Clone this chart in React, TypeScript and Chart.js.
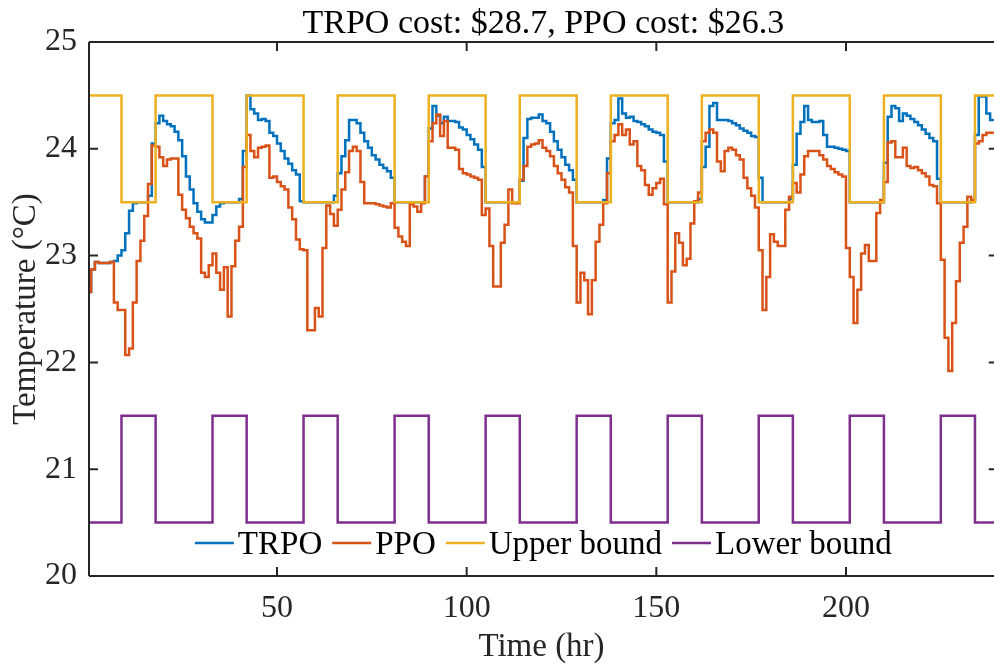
import React, { useEffect, useRef } from "react";
import { Chart, registerables } from "chart.js";

Chart.register(...registerables);

const titleText = "TRPO cost: $28.7, PPO cost: $26.3";
const xTitle = "Time (hr)";
const yTitle = "Temperature (°C)";
const seriesNames = ["TRPO", "PPO", "Upper bound", "Lower bound"];
const seriesColors = ["#0072BD", "#D95319", "#EDB120", "#7E2F8E"];

const xTicks = [50, 100, 150, 200];
const yTicks = [20, 21, 22, 23, 24, 25];

// hourly PPO temperature (hours 0..239)
const ppo = [
  22.66, 22.87, 22.94, 22.93, 22.93, 22.93, 22.94, 22.56, 22.49, 22.49, 22.07, 22.13,
  22.56, 22.95, 23.14, 23.37, 23.67, 24.03, 24.02, 23.92, 23.84, 23.9, 23.91, 23.91,
  23.57, 23.43, 23.35, 23.27, 23.21, 23.16, 22.84, 22.8, 22.91, 23.02, 22.84, 22.68,
  22.89, 22.43, 22.9, 23.14, 23.27, 23.83, 24.13, 23.98, 23.92, 24.01, 24.02, 24.03,
  23.73, 23.74, 23.69, 23.65, 23.62, 23.45, 23.34, 23.15, 23.06, 23.05, 22.3, 22.3,
  22.51, 22.43, 23.07, 23.47, 23.39, 23.28, 23.43, 23.62, 23.78, 23.98, 24.02, 23.98,
  23.69, 23.49, 23.49, 23.49, 23.48, 23.47, 23.46, 23.45, 23.49, 23.26, 23.18, 23.13,
  23.09, 23.48, 23.46, 23.41, 23.49, 23.74, 24.07, 24.24, 24.32, 24.12, 24.26, 24.01,
  24.01, 23.99, 23.81, 23.77, 23.76, 23.74, 23.73, 23.71, 23.38, 23.44, 23.09, 22.71,
  22.71, 23.12, 23.29, 23.62, 23.49, 23.49, 23.71, 23.84, 24.02, 24.04, 24.05, 24.08,
  24.01, 23.98, 23.93, 23.84, 23.77, 23.71, 23.64, 23.59, 23.09, 22.56, 22.84, 22.77,
  22.45, 22.77, 23.13, 23.29, 23.49, 23.77, 24.07, 24.13, 24.23, 24.13, 24.18, 24.04,
  24.07, 23.84, 23.8, 23.66, 23.57, 23.63, 23.68, 23.72, 23.48, 22.56, 22.85, 23.21,
  23.12, 22.91, 22.97, 23.3, 23.51, 23.59, 24.07, 24.15, 24.18, 24.15, 23.88, 23.79,
  23.98, 24.01, 23.99, 23.94, 23.9, 23.73, 23.63, 23.56, 23.45, 23.05, 22.49, 22.8,
  23.2, 23.13, 23.09, 23.09, 23.43, 23.55, 23.68, 23.59, 23.76, 23.93, 23.98, 23.98,
  23.98, 23.94, 23.9, 23.84, 23.81, 23.78, 23.76, 23.74, 23.07, 22.8, 22.37, 22.68,
  23.02, 23.1, 22.95, 22.95, 23.4, 23.52, 23.69, 24.06, 24.07, 23.92, 23.92, 24.01,
  23.84, 23.82, 23.83, 23.8, 23.77, 23.74, 23.66, 23.65, 23.49, 22.96, 22.23, 21.92,
  22.37, 22.76, 23.12, 23.27, 23.55, 23.52, 24.05, 24.07, 24.13, 24.15, 24.15, 24.15,
];

// hourly TRPO temperature (hours 0..239)
const trpo = [
  22.66, 22.87, 22.94, 22.93, 22.93, 22.93, 22.94, 22.95, 23.0, 23.05, 23.21, 23.42,
  23.49, 23.5, 23.5, 23.5, 23.56, 24.05, 24.24, 24.31, 24.26, 24.23, 24.21, 24.16,
  24.08, 23.93, 23.74, 23.62, 23.49, 23.41, 23.34, 23.31, 23.31, 23.38, 23.46, 23.49,
  23.5, 23.5, 23.5, 23.5, 23.53, 23.98, 24.5, 24.37, 24.33, 24.27, 24.28, 24.26,
  24.15, 24.12, 24.05, 23.98, 23.91, 23.86, 23.8, 23.76, 23.51, 23.5, 23.5, 23.5,
  23.5, 23.5, 23.5, 23.5, 23.5, 23.56, 23.77, 23.93, 24.08, 24.27, 24.27, 24.24,
  24.15, 24.07, 24.01, 23.94, 23.9, 23.85, 23.82, 23.79, 23.73, 23.5, 23.5, 23.5,
  23.5, 23.5, 23.5, 23.5, 23.5, 23.74, 24.19, 24.4, 24.31, 24.24, 24.3, 24.26,
  24.26, 24.25, 24.2, 24.18, 24.13, 24.09, 24.04, 23.99, 23.83, 23.5, 23.5, 23.5,
  23.5, 23.5, 23.5, 23.5, 23.5, 23.5, 23.7, 24.1, 24.28, 24.29, 24.29, 24.32,
  24.26, 24.24, 24.16, 24.07, 23.99, 23.92, 23.85, 23.8, 23.71, 23.5, 23.5, 23.5,
  23.5, 23.5, 23.5, 23.5, 23.52, 23.91, 24.24, 24.27, 24.47, 24.33, 24.29, 24.3,
  24.26, 24.25, 24.23, 24.21, 24.18, 24.16, 24.15, 24.13, 23.88, 23.5, 23.5, 23.5,
  23.5, 23.5, 23.5, 23.5, 23.5, 23.53, 23.83, 24.02, 24.4, 24.43, 24.27, 24.27,
  24.27, 24.26, 24.24, 24.22, 24.19, 24.17, 24.15, 24.12, 24.11, 23.73, 23.5, 23.5,
  23.5, 23.5, 23.5, 23.5, 23.5, 23.53, 23.85, 24.14, 24.25, 24.4, 24.27, 24.25,
  24.25, 24.26, 24.13, 24.02, 24.02, 24.01, 24.0, 23.99, 23.98, 23.5, 23.5, 23.5,
  23.5, 23.5, 23.5, 23.5, 23.5, 23.5, 23.87, 24.3, 24.4, 24.38, 24.26, 24.33,
  24.31, 24.28, 24.25, 24.22, 24.18, 24.14, 24.1, 24.07, 23.72, 23.5, 23.5, 23.5,
  23.5, 23.5, 23.5, 23.5, 23.5, 23.52, 24.13, 24.49, 24.49, 24.33, 24.27, 24.27,
];

// comfort-band schedule: change points (hours) and the value held from each
const boundTimes = [0, 9, 18, 33, 42, 57, 66, 81, 90, 105, 114, 129, 138, 153, 162, 177, 186, 201, 210, 225, 234, 240];
const upperVals = [24.5, 23.5, 24.5, 23.5, 24.5, 23.5, 24.5, 23.5, 24.5, 23.5, 24.5, 23.5, 24.5, 23.5, 24.5, 23.5, 24.5, 23.5, 24.5, 23.5, 24.5, 24.5];
const lowerVals = [20.5, 21.5, 20.5, 21.5, 20.5, 21.5, 20.5, 21.5, 20.5, 21.5, 20.5, 21.5, 20.5, 21.5, 20.5, 21.5, 20.5, 21.5, 20.5, 21.5, 20.5, 20.5];

const X_MIN = 0.44;
const X_MAX = 239.02;
const X_END = 240;

const FONT = "'Liberation Serif', 'Times New Roman', serif";
const AXIS_COLOR = "#262626";
const LINE_W = 2.5;

const framePlugin = {
  id: "matlabFrame",
  afterDraw(chart: any) {
    const { ctx, chartArea, scales } = chart;
    const xs = scales.x;
    const ys = scales.y;
    const left = chartArea.left;
    const top = chartArea.top;
    const bottom = chartArea.bottom;
    const right = xs.getPixelForValue(X_END);
    ctx.save();
    ctx.strokeStyle = AXIS_COLOR;
    ctx.lineWidth = 2;
    ctx.beginPath();
    ctx.moveTo(left, top);
    ctx.lineTo(right, top);
    ctx.moveTo(left, bottom);
    ctx.lineTo(right, bottom);
    ctx.moveTo(left, top);
    ctx.lineTo(left, bottom);
    ctx.moveTo(right, top);
    ctx.lineTo(right, bottom);
    const tl = 9;
    xTicks.forEach((v) => {
      const px = xs.getPixelForValue(v);
      ctx.moveTo(px, bottom);
      ctx.lineTo(px, bottom - tl);
      ctx.moveTo(px, top);
      ctx.lineTo(px, top + tl);
    });
    yTicks.forEach((v) => {
      const py = ys.getPixelForValue(v);
      ctx.moveTo(left, py);
      ctx.lineTo(left + tl, py);
      ctx.moveTo(right, py);
      ctx.lineTo(right - tl, py);
    });
    ctx.stroke();

    // title
    const cx = (left + right) / 2;
    ctx.fillStyle = "#000000";
    ctx.font = `34px ${FONT}`;
    ctx.textAlign = "center";
    ctx.textBaseline = "alphabetic";
    ctx.fillText(titleText, cx, 33);

    // legend
    ctx.font = `33px ${FONT}`;
    const lineLen = 39;
    const gapLT = 4;
    const gapItem = 10;
    const widths = seriesNames.map((n) => ctx.measureText(n).width);
    let total = 0;
    widths.forEach((w, i) => {
      total += lineLen + gapLT + w + (i < widths.length - 1 ? gapItem : 0);
    });
    let x = cx - total / 2;
    const ly = ys.getPixelForValue(20) - 33;
    ctx.textAlign = "left";
    ctx.textBaseline = "middle";
    seriesNames.forEach((n, i) => {
      ctx.strokeStyle = seriesColors[i];
      ctx.lineWidth = LINE_W;
      ctx.beginPath();
      ctx.moveTo(x, ly);
      ctx.lineTo(x + lineLen, ly);
      ctx.stroke();
      ctx.fillStyle = "#000000";
      ctx.fillText(n, x + lineLen + gapLT, ly + 2);
      x += lineLen + gapLT + widths[i] + gapItem;
    });
    ctx.restore();
  },
};

export default function App() {
  const ref = useRef<HTMLCanvasElement | null>(null);

  useEffect(() => {
    if (!ref.current) return;
    const hours = ppo.map((_, i) => i);
    const mk = (label: string, color: string, data: any[], order: number) => ({
      label,
      data,
      borderColor: color,
      borderWidth: LINE_W,
      stepped: true,
      pointRadius: 0,
      fill: false,
      order,
    });
    const chart = new Chart(ref.current, {
      type: "line",
      data: {
        datasets: [
          mk(seriesNames[0], seriesColors[0], hours.map((h, i) => ({ x: h, y: trpo[i] })), 4),
          mk(seriesNames[1], seriesColors[1], hours.map((h, i) => ({ x: h, y: ppo[i] })), 3),
          mk(seriesNames[2], seriesColors[2], boundTimes.map((t, i) => ({ x: t, y: upperVals[i] })), 2),
          mk(seriesNames[3], seriesColors[3], boundTimes.map((t, i) => ({ x: t, y: lowerVals[i] })), 1),
        ] as any,
      },
      options: {
        responsive: false,
        animation: false,
        devicePixelRatio: 1,
        layout: { padding: { top: 42, left: 0, right: 0, bottom: 0 } },
        plugins: {
          legend: { display: false },
          title: { display: false },
          tooltip: { enabled: false },
        },
        scales: {
          x: {
            type: "linear",
            min: X_MIN,
            max: X_MAX,
            afterBuildTicks: (s: any) => {
              s.ticks = xTicks.map((v) => ({ value: v }));
            },
            afterFit: (s: any) => {
              s.height = 91;
            },
            grid: { display: false, drawTicks: false },
            border: { display: false },
            ticks: {
              font: { family: FONT, size: 32 },
              color: AXIS_COLOR,
              padding: 13,
              maxRotation: 0,
              autoSkip: false,
            },
            title: {
              display: true,
              text: xTitle,
              color: AXIS_COLOR,
              font: { family: FONT, size: 33 },
              padding: { top: 0, bottom: 0 },
            },
          },
          y: {
            type: "linear",
            min: 20,
            max: 25,
            afterBuildTicks: (s: any) => {
              s.ticks = yTicks.map((v) => ({ value: v }));
            },
            afterFit: (s: any) => {
              s.width = 89;
            },
            grid: { display: false, drawTicks: false },
            border: { display: false },
            ticks: {
              font: { family: FONT, size: 32 },
              color: AXIS_COLOR,
              padding: 12,
            },
            title: {
              display: true,
              text: yTitle,
              color: AXIS_COLOR,
              font: { family: FONT, size: 33 },
              padding: { top: 7, bottom: 0 },
            },
          },
        },
      } as any,
      plugins: [framePlugin],
    });
    return () => chart.destroy();
  }, []);

  return (
    <div style={{ position: "absolute", left: 0, top: 0, width: 994, height: 667, background: "#ffffff" }}>
      <canvas ref={ref} width={994} height={667} style={{ display: "block" }} />
    </div>
  );
}
